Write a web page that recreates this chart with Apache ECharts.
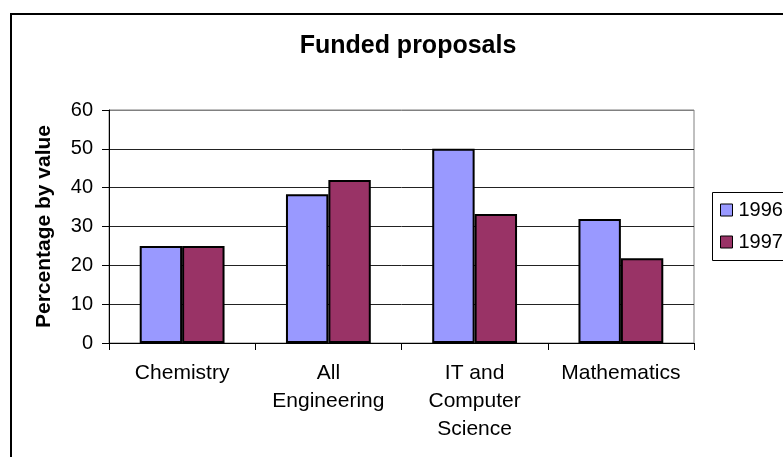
<!DOCTYPE html>
<html>
<head>
<meta charset="utf-8">
<script src="https://cdn.jsdelivr.net/npm/echarts@6/dist/echarts.min.js"></script>
<style>
html,body{margin:0;padding:0;background:#fff;}
#chart{width:783px;height:457px;}
</style>
</head>
<body>
<div id="chart"></div>
<script>
const categories = ['Chemistry', 'All\nEngineering', 'IT and\nComputer\nScience', 'Mathematics'];
const seriesNames = ['1996', '1997'];
const values1996 = [25, 38.3, 50, 31.9];
const values1997 = [25, 42, 33.2, 21.8];
const yTicks = [0, 10, 20, 30, 40, 50, 60];

const FONT = '"Liberation Sans", Arial, sans-serif';
const chart = echarts.init(document.getElementById('chart'), null, {renderer: 'canvas'});
chart.setOption({
  backgroundColor: '#fff',
  animation: false,
  title: {
    text: 'Funded proposals',
    left: 403, top: 29, textAlign: 'center',
    textStyle: {fontFamily: FONT, fontSize: 25, fontWeight: 'bold', color: '#000'}
  },
  graphic: [
    {type: 'rect', shape: {x: 11, y: 14, width: 800, height: 480}, style: {fill: 'none', stroke: '#000', lineWidth: 2}, z: 0},
    {type: 'rect', shape: {x: 712.5, y: 192.5, width: 100, height: 68}, style: {fill: '#fff', stroke: '#000', lineWidth: 1}, z: 1}
  ],
  legend: {
    orient: 'vertical', left: 720, top: 200, padding: 0,
    itemWidth: 12, itemHeight: 12, itemGap: 12, icon: 'rect',
    itemStyle: {borderColor: '#000', borderWidth: 1},
    textStyle: {fontFamily: FONT, fontSize: 20, color: '#000', lineHeight: 20, padding: [0, 0, 0, 1]},
    data: seriesNames
  },
  grid: {left: 109, right: 89, top: 110, bottom: 114, show: true, borderColor: '#808080', borderWidth: 1},
  xAxis: {
    type: 'category', data: categories,
    axisLine: {lineStyle: {color: '#000', width: 1}},
    axisTick: {show: true, length: 7, inside: false, lineStyle: {color: '#000'}},
    axisLabel: {fontFamily: FONT, fontSize: 21, color: '#000', margin: 16, lineHeight: 28, interval: 0}
  },
  yAxis: {
    type: 'value', min: yTicks[0], max: yTicks[yTicks.length - 1], interval: 10,
    name: 'Percentage by value', nameLocation: 'middle', nameRotate: 90, nameGap: 54,
    nameTextStyle: {fontFamily: FONT, fontSize: 21, fontWeight: 'bold', color: '#000'},
    axisLine: {show: true, lineStyle: {color: '#000'}},
    axisTick: {show: true, length: 7, lineStyle: {color: '#000'}},
    axisLabel: {fontFamily: FONT, fontSize: 20, color: '#000', margin: 16},
    splitLine: {show: true, lineStyle: {color: ['#000', '#222', '#222', '#222', '#222', '#222', '#808080'], width: 1}}
  },
  series: [
    {name: seriesNames[0], type: 'bar', data: values1996, barGap: '0%', barCategoryGap: '42%',
     itemStyle: {color: '#9999FF', borderColor: '#000', borderWidth: 2}},
    {name: seriesNames[1], type: 'bar', data: values1997, barGap: '0%', barCategoryGap: '42%',
     itemStyle: {color: '#993366', borderColor: '#000', borderWidth: 2}}
  ]
});
</script>
</body>
</html>
